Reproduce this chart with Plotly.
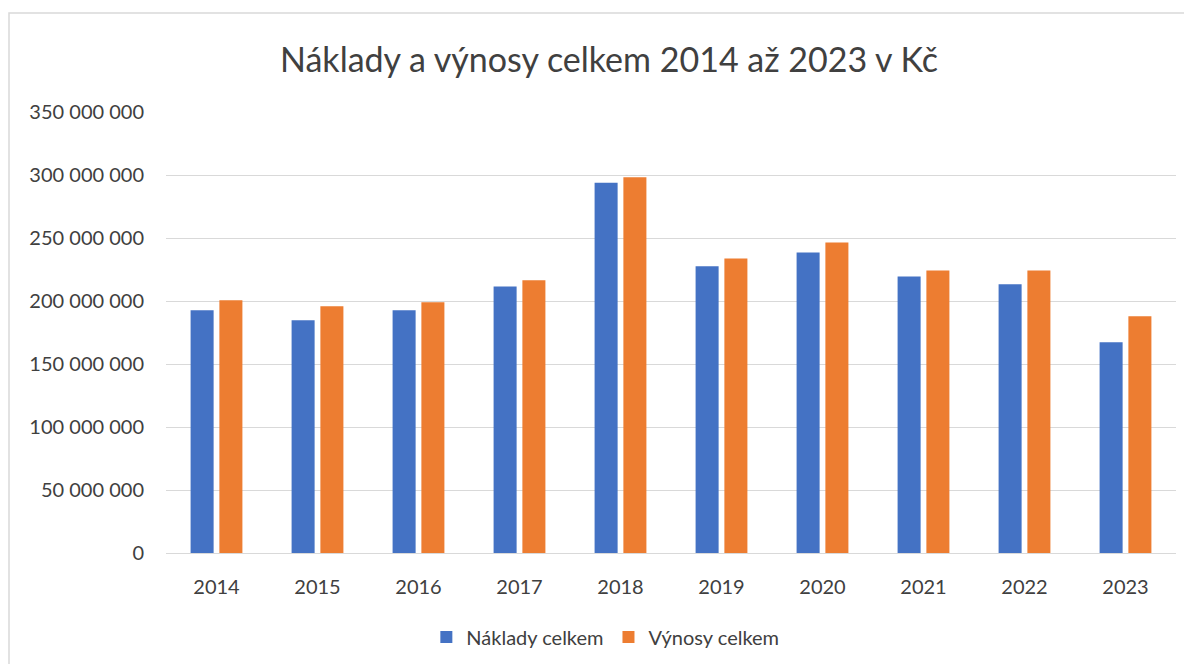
import plotly.graph_objects as go

years = ["2014", "2015", "2016", "2017", "2018", "2019", "2020", "2021", "2022", "2023"]
naklady = [192.6e6, 184.7e6, 192.6e6, 211.6e6, 293.9e6, 227.5e6, 238.5e6, 219.5e6, 213.2e6, 167.3e6]
vynosy = [200.6e6, 195.8e6, 199.0e6, 216.4e6, 298.3e6, 233.8e6, 246.4e6, 224.3e6, 224.3e6, 187.9e6]
y_ticks = [0, 50e6, 100e6, 150e6, 200e6, 250e6, 300e6, 350e6]
y_tick_labels = ["0", "50 000 000", "100 000 000", "150 000 000", "200 000 000",
                 "250 000 000", "300 000 000", "350 000 000"]

FONT = "Lato"
TXT = "#404040"

# the page body adds an 8px offset, so the figure is sized to the remaining area
W, H = 1184, 656
L, R, T, B = 158, 16, 104, 111
PW, PH = W - L - R, H - T - B

fig = go.Figure()
fig.add_trace(go.Bar(x=years, y=naklady, name="Náklady celkem",
                     marker=dict(color="#4472C4", line=dict(width=0))))
fig.add_trace(go.Bar(x=years, y=vynosy, name="Výnosy celkem",
                     marker=dict(color="#ED7D31", line=dict(width=0))))

fig.update_layout(
    width=W, height=H,
    paper_bgcolor="white", plot_bgcolor="white",
    margin=dict(l=L, r=R, t=T, b=B, autoexpand=False),
    barmode="group", bargap=0.43, bargroupgap=0.2,
    font=dict(family=FONT, color=TXT, size=20),
    title=dict(text="Náklady a výnosy celkem 2014 až 2023 v Kč",
               x=(601 / W), xanchor="center", y=1 - 52 / H, yanchor="middle",
               yref="container", font=dict(family=FONT, size=34, color=TXT)),
    legend=dict(orientation="h", x=0.435, xanchor="center", y=-(637 - 8 - (T + PH)) / PH,
                yanchor="middle",
                font=dict(family=FONT, size=20, color=TXT), itemwidth=30,
                bgcolor="rgba(0,0,0,0)"),
    showlegend=True,
)
fig.update_yaxes(range=[0, 350e6], tickvals=y_ticks, ticktext=y_tick_labels,
                 showgrid=True, gridcolor="#D9D9D9", gridwidth=1, zeroline=False,
                 showline=False, ticks="", ticklabelstandoff=21,
                 tickfont=dict(family=FONT, size=20, color=TXT))
fig.update_xaxes(showgrid=False, showline=True, linecolor="#D9D9D9", linewidth=1,
                 ticks="", ticklabelstandoff=16,
                 tickfont=dict(family=FONT, size=20, color=TXT))

fig.add_shape(type="rect", xref="paper", yref="paper",
              x0=(1 - L) / PW, x1=1.2, y0=-0.5, y1=(T + PH - 5) / PH,
              line=dict(color="#D9D9D9", width=1.5), fillcolor="rgba(0,0,0,0)", layer="below")

fig.write_html("out.html")
